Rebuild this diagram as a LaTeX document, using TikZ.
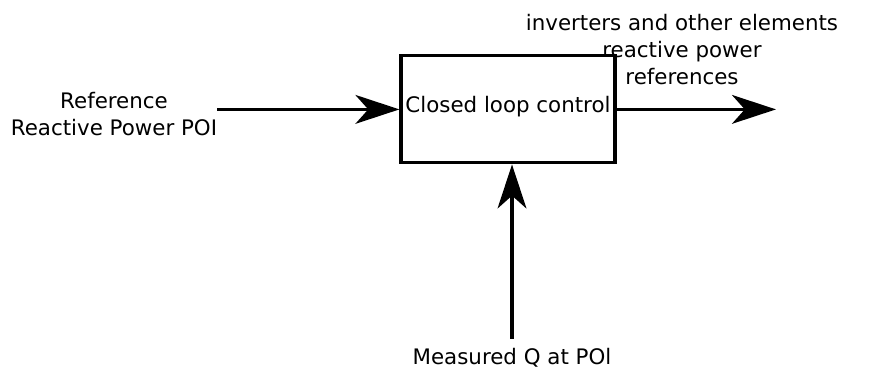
\documentclass[tikz,border=0pt]{standalone}
\usepackage{fontspec}
\setmainfont{DejaVu Sans}
\usetikzlibrary{arrows.meta, positioning}

\tikzset{
  lbl/.style={align=center, inner sep=0pt, font=\fontsize{15.2}{19}\selectfont},
  flow/.style={-{Stealth[length=1.1cm, width=0.72cm, inset=0.32cm]}, line width=2.4pt}
}

\begin{document}
\begin{tikzpicture}
  \useasboundingbox (0,0) rectangle (22.25,9.275);
  \node[draw, line width=2.2pt, minimum width=5.35cm, minimum height=2.675cm,
        lbl] (ctrl) at (12.7,6.54) {};
  \node[lbl] (ctrltxt) at (12.7,6.6) {Closed loop control};
  \node[lbl] (qref) at (2.85,6.42) {Reference\\Reactive Power POI};
  \node[lbl] (qrefs) at (17.05,8.04)
    {inverters and other elements\\reactive power\\references};
  \node[lbl, anchor=base, inner sep=7pt] (qmeas) at (12.8,0.15) {Measured Q at POl};
  \coordinate (qout) at (19.4,6.54);
  \draw[flow] (qref.east |- ctrl.west) -- (ctrl.west);
  \draw[flow] (ctrl.east) -- (qout);
  \draw[flow] (qmeas.north) -- (qmeas.north |- ctrl.south);
\end{tikzpicture}
\end{document}
